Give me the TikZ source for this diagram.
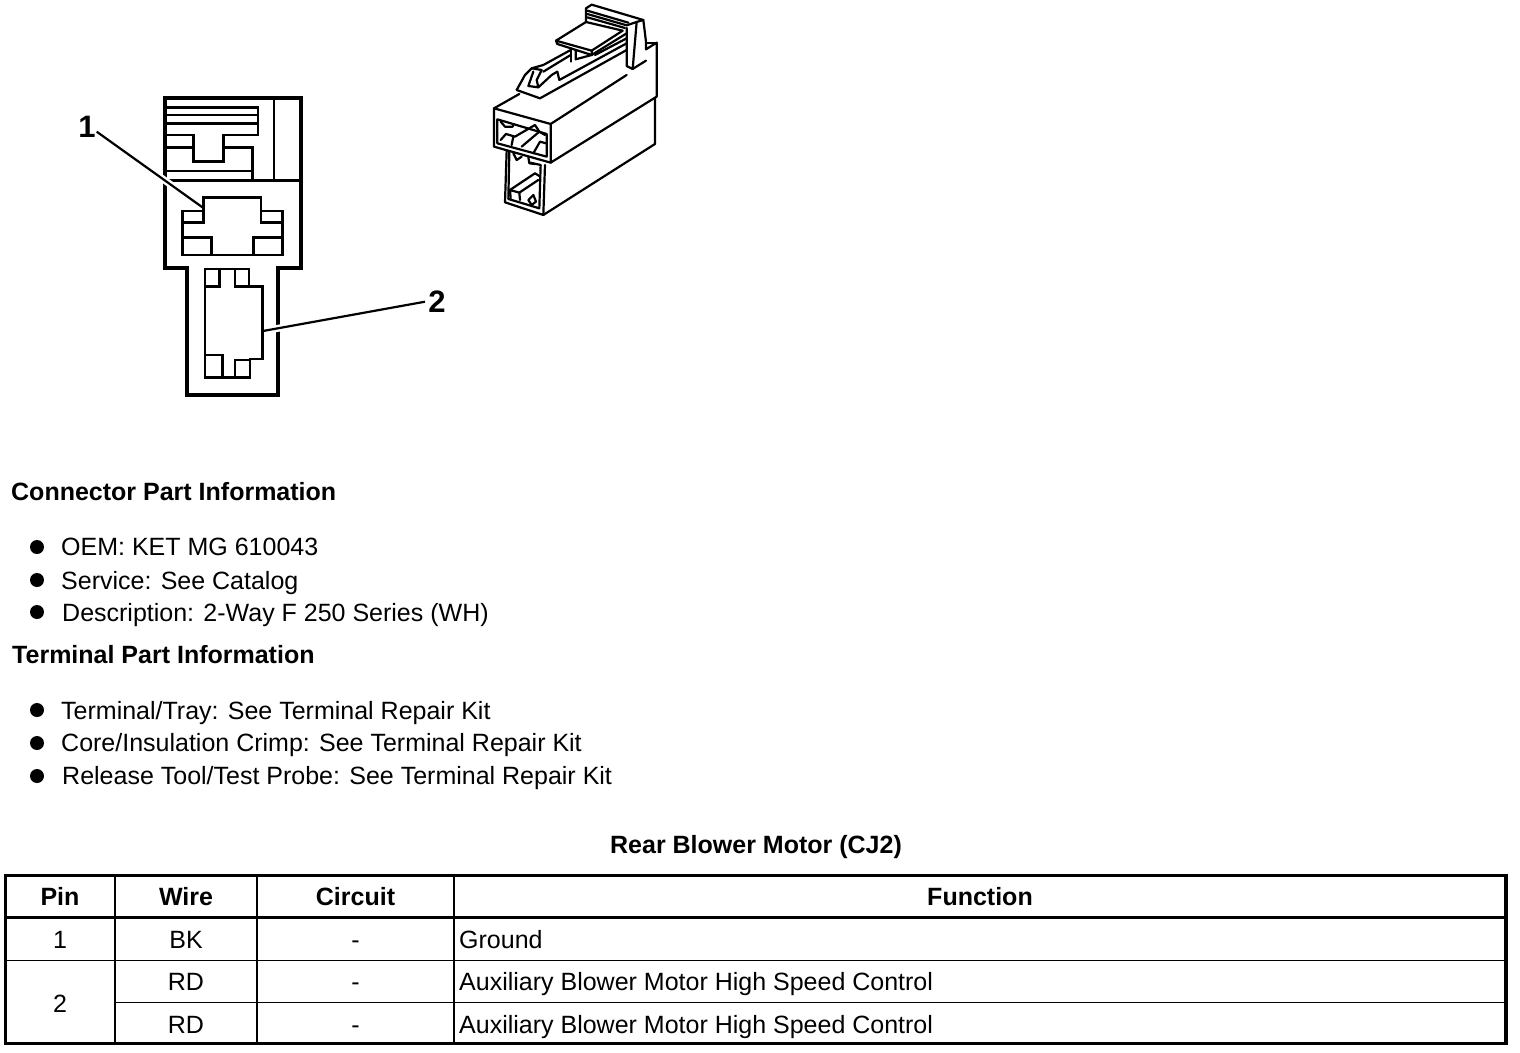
\documentclass[tikz,border=0pt]{standalone}
\usepackage{fontspec}
\usetikzlibrary{calc}
\setmainfont{Liberation Sans}
\tikzset{
  px/.style={x=1pt,y=-1pt},
  txt/.style={inner sep=0pt,anchor=base west,font=\fontsize{25}{28}\selectfont},
  head/.style={inner sep=0pt,anchor=base west,font=\fontsize{25}{28}\selectfont\bfseries},
  cell/.style={inner sep=0pt,anchor=base,font=\fontsize{25}{28}\selectfont},
  hcell/.style={inner sep=0pt,anchor=base,font=\fontsize{25}{28}\selectfont\bfseries},
  callout/.style={inner sep=0pt,anchor=base,font=\fontsize{31}{34}\selectfont\bfseries},
  bul/.style={circle,fill=black,inner sep=0pt,minimum size=14pt},
  heavy/.style={line width=3.8pt,line join=miter},
  mid/.style={line width=2.7pt,line join=miter},
  leader/.style={line width=2.2pt},
  halo/.style={line width=7pt,white},
  iso/.style={line width=2.2pt,line join=round,line cap=round},
  frame/.style={line width=3.4pt},
  colline/.style={line width=2.2pt},
  rowline/.style={line width=1.4pt}
}
\begin{document}
\begin{tikzpicture}[px]
\useasboundingbox[fill=white] (0,0) rectangle (1520,1052);

% --- front view of the connector
\draw[heavy] (165,98) -- (300.7,98) -- (300.7,268) -- (278,268) -- (278,395) -- (187,395) -- (187,268) -- (165,268) -- cycle;
\draw[mid] (274,98) -- (274,180.7);
\draw[mid] (165,180.7) -- (300.7,180.7);
\draw[mid] (165,107.7) -- (258,107.7) -- (258,135) -- (223.3,135) -- (223.3,161.7) -- (193.3,161.7) -- (193.3,135) -- (165,135);
\draw[mid] (165,115) -- (258,115);
\draw[mid] (165,123.3) -- (258,123.3);
\draw[mid] (165,147.3) -- (193.3,147.3);
\draw[mid] (223.3,147.3) -- (252.7,147.3) -- (252.7,180.7);
\draw[mid] (165,171) -- (252.7,171);
% cavity 1
\draw[mid] (182.7,211) -- (203.3,211) -- (203.3,197.7) -- (261,197.7) -- (261,211) -- (282.7,211) -- (282.7,255) -- (182.7,255) -- cycle;
\draw[mid] (182.7,222.3) -- (203.3,222.3) -- (203.3,211);
\draw[mid] (282.7,222.3) -- (261,222.3) -- (261,211);
\draw[mid] (182.7,237.3) -- (211.7,237.3) -- (211.7,255);
\draw[mid] (282.7,237.3) -- (253.3,237.3) -- (253.3,255);
% cavity 2
\draw[mid] (205,269) -- (249,269) -- (249,286.7) -- (262.3,286.7) -- (262.3,359) -- (250,359) -- (250,377.7) -- (205,377.7) -- cycle;
\draw[mid] (205,286.7) -- (219.3,286.7) -- (219.3,269);
\draw[mid] (235,269) -- (235,286.7) -- (249,286.7);
\draw[mid] (205,355) -- (222.7,355) -- (222.7,377.7);
\draw[mid] (235,377.7) -- (235,360) -- (250,360);

% --- callouts
\node[callout] (n1) at (87,137) {1};
\node[callout] (n2) at (437,312) {2};
\coordinate (l1a) at (96.7,131.7);
\coordinate (l1b) at (203,207.7);
\coordinate (l2a) at (425,301.7);
\coordinate (l2b) at (263,331);
\draw[halo] ($(l1a)!0.55!(l1b)$) -- ($(l1a)!0.85!(l1b)$);
\draw[halo] ($(l2a)!0.75!(l2b)$) -- ($(l2a)!0.95!(l2b)$);
\draw[leader] (l1a) -- (l1b);
\draw[leader] (l2a) -- (l2b);

% --- isometric view
\begin{scope}[shift={(480,0)},x=0.3333pt,y=-0.3333pt,iso]
  % upper housing
  \draw (42,325) -- (212,372) -- (212,488) -- (42,440) -- cycle;
  \draw (42,325) -- (118,282);
  \draw (212,372) -- (440,225);
  \draw (212,488) -- (530,290) -- (530,128) -- (498,148);
  % lower housing
  \draw (80,452) -- (75,607) -- (190,645) -- (195,495);
  \draw (190,645) -- (525,432) -- (525,295);
  \draw (88,456) -- (85,597) -- (178,625) -- (182,495) -- (150,488);
  % front opening
  \draw (52,358) -- (200,402) -- (200,470) -- (52,430) -- cycle;
  \draw (62,365) -- (75,380) -- (98,380) -- (102,372);
  \draw (62,420) -- (78,402) -- (105,410) -- (165,375) -- (178,395) -- (125,440);
  \draw (95,435) -- (100,410);
  \draw (160,460) -- (180,425) -- (198,430);
  \draw (178,395) -- (195,405);
  % lower cavity
  \draw (90,570) -- (165,520) -- (178,528);
  \draw (92,595) -- (90,570) -- (118,578) -- (120,600);
  \draw (118,578) -- (175,540);
  \draw (145,600) -- (160,585) -- (168,605) -- (155,615) -- cycle;
  \draw (100,460) -- (110,480) -- (125,470);
  \draw (145,472) -- (148,490) -- (165,492);
  % latch nose
  \draw (110,270) -- (180,295) -- (440,150);
  \draw (110,270) -- (135,225) -- (155,205) -- (185,210);
  \draw (185,210) -- (170,240) -- (175,262) -- (145,258) -- (160,215);
  \draw (175,262) -- (215,225) -- (232,215);
  \draw (155,205) -- (190,195) -- (272,150);
  \draw (190,215) -- (272,165);
  \draw (232,215) -- (238,240) -- (440,130);
  % slider plate
  \draw (228,122) -- (318,66) -- (428,92) -- (335,152) -- cycle;
  \draw (228,122) -- (232,132) -- (335,165) -- (335,152);
  \draw (272,145) -- (272,185);
  \draw (287,150) -- (287,178) -- (335,165);
  \draw (335,165) -- (440,100);
  \draw (345,165) -- (440,115);
  % rear tab
  \draw (318,66) -- (318,25) -- (335,14) -- (490,60) -- (498,125) -- (498,148);
  \draw (322,32) -- (445,68);
  \draw (322,42) -- (440,76);
  \draw (322,52) -- (435,84);
  \draw (440,76) -- (470,66) -- (490,60);
  \draw (470,66) -- (458,207) -- (440,198) -- (440,84);
  \draw (458,207) -- (498,182);
  \draw (498,148) -- (498,128) -- (530,128);
\end{scope}

% --- text blocks
\node[head] (h1) at (11,500) {Connector Part Information};
\node[bul] (b1) at (37,547) {};
\node[bul] (b2) at (37,580) {};
\node[bul] (b3) at (37,612) {};
\node[txt] (t1) at (61,555) {OEM: KET MG 610043};
\node[txt] (t2) at (61,589) {Service: See Catalog};
\node[txt] (t3) at (62,621) {Description: 2-Way F 250 Series (WH)};
\node[head] (h2) at (12,663) {Terminal Part Information};
\node[bul] (b4) at (37,710) {};
\node[bul] (b5) at (37,743) {};
\node[bul] (b6) at (37,776) {};
\node[txt] (t4) at (61,719) {Terminal/Tray: See Terminal Repair Kit};
\node[txt] (t5) at (61,751) {Core/Insulation Crimp: See Terminal Repair Kit};
\node[txt] (t6) at (62,784) {Release Tool/Test Probe: See Terminal Repair Kit};

% --- table
\node[hcell] (title) at (756,853) {Rear Blower Motor (CJ2)};
\draw[frame] (5.7,875.7) rectangle (1506,1043.5);
\draw[frame] (5.7,917.3) -- (1506,917.3);
\draw[rowline] (5.7,960.5) -- (1506,960.5);
\draw[rowline] (115,1002.5) -- (1506,1002.5);
\draw[colline] (115,875.7) -- (115,1043.5);
\draw[colline] (257,875.7) -- (257,1043.5);
\draw[colline] (454,875.7) -- (454,1043.5);
\node[hcell] (c1) at (60,905) {Pin};
\node[hcell] (c2) at (186,905) {Wire};
\node[hcell] (c3) at (355.5,905) {Circuit};
\node[hcell] (c4) at (980,905) {Function};
\node[cell] (p1) at (60,948) {1};
\node[cell] (w1) at (186,948) {BK};
\node[cell] (k1) at (355.5,948) {-};
\node[txt] (f1) at (459,948) {Ground};
\node[cell] (p2) at (60,1012) {2};
\node[cell] (w2) at (186,990) {RD};
\node[cell] (k2) at (355.5,990) {-};
\node[txt] (f2) at (459,990) {Auxiliary Blower Motor High Speed Control};
\node[cell] (w3) at (186,1033) {RD};
\node[cell] (k3) at (355.5,1033) {-};
\node[txt] (f3) at (459,1033) {Auxiliary Blower Motor High Speed Control};
\end{tikzpicture}
\end{document}
